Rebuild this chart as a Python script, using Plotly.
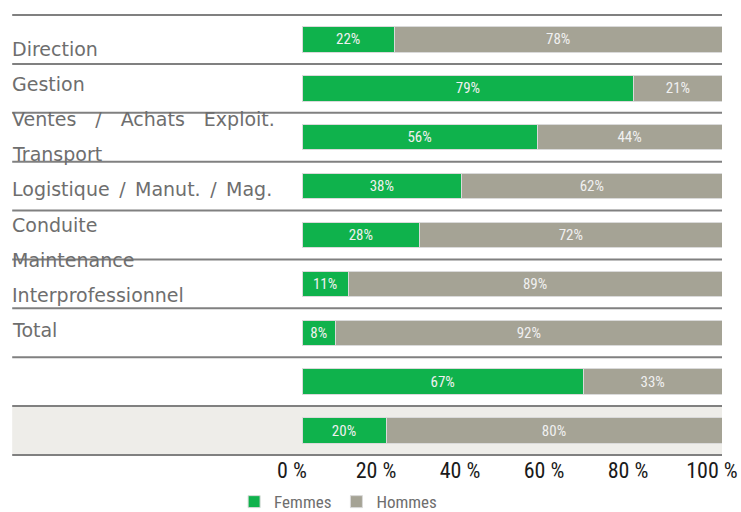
import plotly.graph_objects as go

categories = ["Direction", "Gestion", "Ventes / Achats", "Exploit. Transport",
              "Logistique / Manut. / Mag.", "Conduite", "Maintenance",
              "Interprofessionnel", "Total"]
G1 = "\u2002"
G2 = "\u2002\u2002"
label_lines = ["Direction", "Gestion", f"Ventes{G2}/{G2}Achats{G2}Exploit.", "Transport",
               f"Logistique{G1}/{G1}Manut.{G1}/{G1}Mag.", "Conduite", "Maintenance",
               "Interprofessionnel", "Total"]
femmes = [22, 79, 56, 38, 28, 11, 8, 67, 20]
hommes = [78, 21, 44, 62, 72, 89, 92, 33, 80]
tick_vals = [0, 20, 40, 60, 80, 100]
tick_text = ["0 %", "20 %", "40 %", "60 %", "80 %", "100 %"]

GREEN = "#0FB24C"
GREY = "#A5A395"
narrow = "Liberation Sans Narrow, Roboto Condensed, Arial Narrow, sans-serif"

fig = go.Figure()
for name, vals, col in [("Femmes", femmes, GREEN), ("Hommes", hommes, GREY)]:
    fig.add_trace(go.Bar(
        y=categories, x=vals, name=name, orientation="h",
        marker=dict(color=col, line=dict(color="#DADADA", width=1)),
        width=0.52,
        text=[f"{v}%" for v in vals], textposition="inside",
        insidetextanchor="middle",
        textfont=dict(family=narrow, size=15, color="#F0F0F0"),
        hoverinfo="skip",
    ))

n = len(categories)
shapes = []
# grey background for the Total row
shapes.append(dict(type="rect", xref="paper", yref="y domain",
                   x0=-0.69, x1=1.0, y0=0, y1=1.0 / n,
                   fillcolor="#EEEDE9", line=dict(width=0), layer="below"))
for i in range(n + 1):
    shapes.append(dict(type="line", xref="paper", yref="y domain",
                       x0=-0.69, x1=1.0, y0=1 - i / n, y1=1 - i / n,
                       line=dict(color="#808080", width=2), layer="above"))

annotations = []
for i, t in enumerate(label_lines):
    annotations.append(dict(text=t, xref="paper", yref="paper",
                            x=-0.695, y=0.9227 - i * 0.0798,
                            xanchor="left", yanchor="middle", showarrow=False,
                            font=dict(family="DejaVu Sans, Verdana, sans-serif",
                                      size=19, color="#6E6E6E")))

fig.update_layout(
    barmode="stack",
    width=741, height=512, autosize=False,
    margin=dict(l=302, r=19, t=15, b=57, autoexpand=False),
    paper_bgcolor="white", plot_bgcolor="rgba(0,0,0,0)",
    shapes=shapes, annotations=annotations,
    showlegend=True,
    legend=dict(orientation="h", x=0.086, xanchor="center", y=-0.107, yanchor="middle",
                traceorder="normal",
                font=dict(family=narrow, size=17, color="#6E6E6E"),
                itemwidth=30, tracegroupgap=0),
    xaxis=dict(range=[0, 100], tickvals=tick_vals, ticktext=tick_text,
               showgrid=False, zeroline=False, showline=False, ticks="",
               ticklabeloverflow="allow", ticklabelshift=-10,
               tickfont=dict(family=narrow, size=22, color="#1A1A1A"), fixedrange=True),
    yaxis=dict(categoryorder="array", categoryarray=categories, autorange="reversed",
               showticklabels=False, showgrid=False, zeroline=False, showline=False,
               fixedrange=True),
)
fig.write_html("out.html",
               config={"responsive": False, "displayModeBar": False, "staticPlot": True},
               post_script="document.body.style.margin='0px';document.body.style.overflow='hidden';")
